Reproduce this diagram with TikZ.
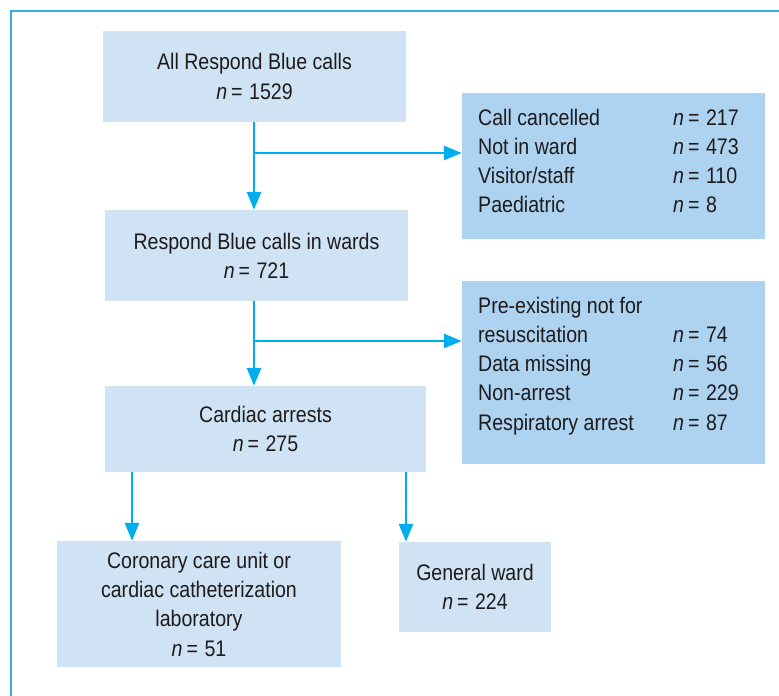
\documentclass[tikz,border=0pt]{standalone}
\usepackage{fontspec}
\setmainfont{Liberation Sans}[FakeStretch=0.87]
\usepackage{xcolor}
\usetikzlibrary{arrows.meta,positioning}
\definecolor{rbmain}{HTML}{CFE3F4}
\definecolor{rbside}{HTML}{AED3F0}
\definecolor{rbarrow}{HTML}{00AEEF}
\definecolor{rbframe}{HTML}{35ADE3}
\definecolor{rbtext}{HTML}{1E1B1C}
\newcommand{\nval}[1]{\textit{n}\hspace{4pt}=\hspace{6.5pt}#1}
\tikzset{
  MB/.style={fill=rbmain, align=center, inner sep=0pt},
  SB/.style={fill=rbside, inner sep=0pt},
  LT/.style={anchor=base west, inner sep=0pt, align=left},
  SA/.style={-{Triangle[length=18pt, width=14pt]}, line width=2.8pt, draw=rbarrow}
}
\begin{document}
\begin{tikzpicture}[x=1pt, y=-1pt,
  every node/.style={font=\fontsize{22.5}{29.3}\selectfont, text=rbtext}]
\useasboundingbox (0,0) rectangle (779,696);

% Frame
\draw[rbframe, line width=2pt] (11,696) -- (11,11) -- (779,11);

% Main flow
\node[MB, minimum width=303pt, minimum height=91pt] (ALL) at (254.5,76.5)
    {All Respond Blue calls\\\nval{1529}};
\node[MB, minimum width=303pt, minimum height=91pt] (WARD) at (256.5,255.5)
    {Respond Blue calls in wards\\\nval{721}};
\node[MB, minimum width=321pt, minimum height=86pt] (CA) at (265.5,429)
    {Cardiac arrests\\\nval{275}};

% Outcomes
\node[MB, minimum width=284pt, minimum height=126pt] (CCU) at (199,604)
    {Coronary care unit or\\cardiac catheterization\\laboratory\\\nval{51}};
\node[MB, minimum width=152pt, minimum height=90pt] (GW) at (475,587)
    {General ward\\\nval{224}};

% Exclusions
\node[SB, minimum width=303pt, minimum height=146pt] (EX1) at (613.5,166) {};
\node[LT] (EX1list) at (478,125)
    {\begin{tabular}[t]{@{}p{195pt}@{}l@{}}
      Call cancelled & \nval{217}\\
      Not in ward    & \nval{473}\\
      Visitor/staff  & \nval{110}\\
      Paediatric     & \nval{8}
    \end{tabular}};

\node[SB, minimum width=303pt, minimum height=183pt] (EX2) at (613.5,372.5) {};
\node[LT] (EX2list) at (478,313)
    {\begin{tabular}[t]{@{}p{195pt}@{}l@{}}
      Pre-existing not for & \\
      resuscitation        & \nval{74}\\
      Data missing         & \nval{56}\\
      Non-arrest           & \nval{229}\\
      Respiratory arrest   & \nval{87}
    \end{tabular}};

% Branch points
\coordinate (B1) at (254,153);
\coordinate (B2) at (254,341);
\coordinate (L1) at (132,0);
\coordinate (L2) at (406,0);

% -- Arrows --
\draw[SA] (B1 |- ALL.south) -- (B1 |- WARD.north);
\draw[SA] (B1) -- (B1 -| EX1.west);
\draw[SA] (B2 |- WARD.south) -- (B2 |- CA.north);
\draw[SA] (B2) -- (B2 -| EX2.west);
\draw[SA] (L1 |- CA.south) -- (L1 |- CCU.north);
\draw[SA] (L2 |- CA.south) -- (L2 |- GW.north);

\end{tikzpicture}
\end{document}
